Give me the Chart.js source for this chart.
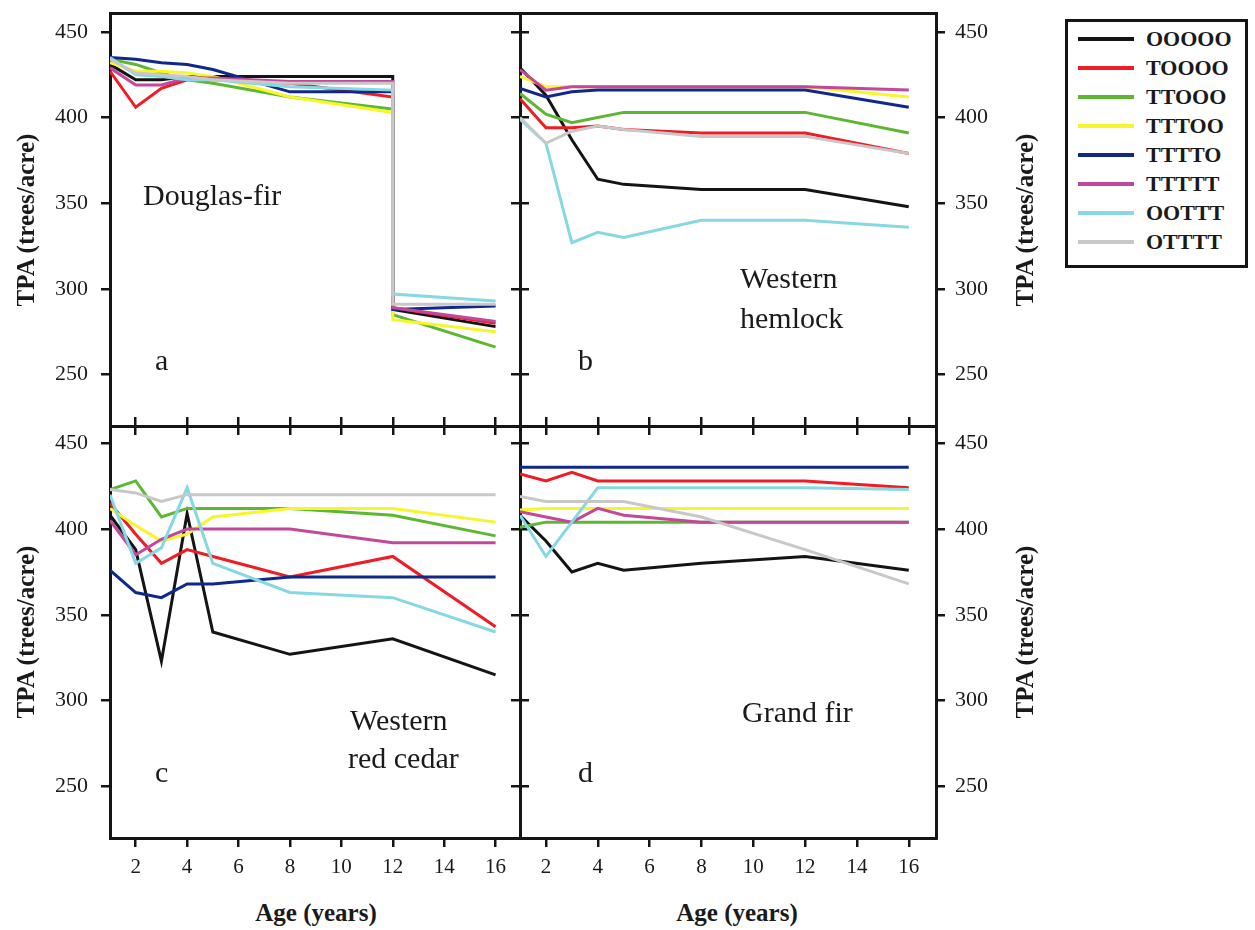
<!DOCTYPE html>
<html><head><meta charset="utf-8">
<script src="https://cdn.jsdelivr.net/npm/chart.js@4.4.1/dist/chart.umd.min.js"></script>
<style>
html,body{margin:0;padding:0;background:#fff;width:1255px;height:930px;overflow:hidden;}
body{position:relative;font-family:'Liberation Serif','Times New Roman',serif;color:#1a1a1a;}
canvas{position:absolute;}
.t{position:absolute;white-space:nowrap;line-height:1;}
.rot{position:absolute;white-space:nowrap;line-height:1;transform:translate(-50%,-50%) rotate(-90deg);font-weight:bold;font-size:25px;}
#legend{position:absolute;left:1065px;top:19px;width:183px;height:249px;border:3px solid #151515;box-sizing:border-box;}
</style></head><body>
<canvas id="pa" width="532" height="429" style="left:0px;top:9px;width:532px;height:429px"></canvas>
<canvas id="pb" width="538" height="429" style="left:508px;top:9px;width:538px;height:429px"></canvas>
<canvas id="pc" width="532" height="484" style="left:0px;top:414px;width:532px;height:484px"></canvas>
<canvas id="pd" width="538" height="484" style="left:508px;top:414px;width:538px;height:484px"></canvas>
<div id="legend"></div>
<div id="texts"></div>
<script>
// ---- categories / ticks ----
const ages = [1, 2, 3, 4, 5, 8, 12, 16];
const agesDouglasFir = [1, 2, 3, 4, 5, 8, 12, 12, 16];
const xTicks = [2, 4, 6, 8, 10, 12, 14, 16];
const yTicks = [250, 300, 350, 400, 450];
const seriesNames = ['OOOOO', 'TOOOO', 'TTOOO', 'TTTOO', 'TTTTO', 'TTTTT', 'OOTTT', 'OTTTT'];
const seriesColors = ['#141414', '#ee1d25', '#5db732', '#f6f62a', '#10288a', '#c2489c', '#86d8e2', '#c8c8c8'];

// ---- series values (trees/acre), one row per series in seriesNames order ----
const douglasFir = [
  [431, 422, 422, 424, 424, 424, 424, 288, 278],
  [427, 406, 417, 422, 422, 420, 412, 289, 280],
  [434, 431, 426, 422, 420, 412, 405, 285, 266],
  [432, 427, 427, 426, 424, 412, 403, 282, 275],
  [435, 434, 432, 431, 428, 415, 415, 288, 290],
  [429, 419, 419, 423, 423, 421, 421, 289, 281],
  [435, 425, 424, 422, 422, 418, 416, 297, 293],
  [434, 426, 425, 424, 422, 420, 420, 291, 291]
];
const westernHemlock = [
  [429, 413, 387, 364, 361, 358, 358, 348],
  [411, 394, 394, 395, 393, 391, 391, 379],
  [414, 402, 397, 400, 403, 403, 403, 391],
  [424, 418, 418, 418, 418, 418, 418, 412],
  [417, 412, 415, 416, 416, 416, 416, 406],
  [428, 416, 418, 418, 418, 418, 418, 416],
  [399, 385, 327, 333, 330, 340, 340, 336],
  [400, 385, 392, 395, 393, 389, 389, 379]
];
const westernRedCedar = [
  [408, 388, 323, 409, 340, 327, 336, 315],
  [415, 397, 380, 388, 384, 372, 384, 343],
  [423, 428, 407, 412, 412, 412, 408, 396],
  [412, 402, 393, 397, 407, 412, 412, 404],
  [376, 363, 360, 368, 368, 372, 372, 372],
  [405, 385, 394, 400, 400, 400, 392, 392],
  [420, 380, 389, 424, 380, 363, 360, 340],
  [423, 421, 416, 420, 420, 420, 420, 420]
];
const grandFir = [
  [408, 393, 375, 380, 376, 380, 384, 376],
  [432, 428, 433, 428, 428, 428, 428, 424],
  [401, 404, 404, 404, 404, 404, 404, 404],
  [411, 412, 412, 412, 412, 412, 412, 412],
  [436, 436, 436, 436, 436, 436, 436, 436],
  [410, 407, 404, 412, 408, 404, 404, 404],
  [408, 384, 404, 424, 424, 424, 424, 423],
  [419, 416, 416, 416, 416, 407, 388, 368]
];

const FONT = "'Liberation Serif','Times New Roman',serif";
const INK = '#151515';

function makeAxis(position, min, max, tickValues, o) {
  const vertical = position === 'left' || position === 'right';
  return {
    type: 'linear', position, min, max,
    afterBuildTicks: s => { s.ticks = tickValues.map(v => ({ value: v })); },
    afterFit: s => {
      if (vertical) s.width = o.size; else s.height = o.size;
      s.paddingTop = 0; s.paddingBottom = 0; s.paddingLeft = 0; s.paddingRight = 0;
    },
    grid: { display: true, drawOnChartArea: false, drawTicks: o.ticks, tickLength: 9, tickWidth: 2.5, tickColor: INK, color: INK, lineWidth: 2.5 },
    border: { display: true, width: 3, color: INK },
    ticks: { display: o.labels, padding: o.pad || 0, color: '#1a1a1a', autoSkip: false, maxRotation: 0, minRotation: 0,
      font: { family: FONT, size: vertical ? 22 : 21 }, callback: v => String(v) }
  };
}

function makePanel(id, xs, rows, cfg) {
  const datasets = rows.map((vals, i) => ({
    label: seriesNames[i],
    data: xs.map((a, k) => ({ x: a, y: vals[k] })),
    borderColor: seriesColors[i], backgroundColor: seriesColors[i],
    borderWidth: 3, pointRadius: 0, tension: 0, fill: false, order: -i
  }));
  new Chart(document.getElementById(id), {
    type: 'line',
    data: { datasets },
    options: {
      responsive: false, animation: false, devicePixelRatio: 1, events: [],
      layout: { padding: 0, autoPadding: false },
      plugins: { legend: { display: false }, tooltip: { enabled: false } },
      scales: {
        x: makeAxis('bottom', 1, cfg.xmax, xTicks, { ticks: true, labels: cfg.bottomLabels, size: cfg.bottom, pad: 8 }),
        xTop: makeAxis('top', 1, cfg.xmax, xTicks, { ticks: cfg.topTicks, labels: false, size: cfg.top }),
        y: makeAxis('left', 220, cfg.ymax, yTicks, { ticks: true, labels: cfg.leftLabels, size: cfg.left, pad: 13 }),
        yRight: makeAxis('right', 220, cfg.ymax, yTicks, { ticks: true, labels: cfg.rightLabels, size: cfg.right, pad: 10 })
      }
    }
  });
}

makePanel('pa', agesDouglasFir, douglasFir, { xmax: 16.95, ymax: 461, left: 110, right: 12, top: 4, bottom: 12, topTicks: false, leftLabels: true, rightLabels: false, bottomLabels: false });
makePanel('pb', ages, westernHemlock, { xmax: 17.05, ymax: 461, left: 12, right: 110, top: 4, bottom: 12, topTicks: false, leftLabels: false, rightLabels: true, bottomLabels: false });
makePanel('pc', ages, westernRedCedar, { xmax: 16.95, ymax: 460, left: 110, right: 12, top: 12, bottom: 60, topTicks: true, leftLabels: true, rightLabels: false, bottomLabels: true });
makePanel('pd', ages, grandFir, { xmax: 17.05, ymax: 460, left: 12, right: 110, top: 12, bottom: 60, topTicks: true, leftLabels: false, rightLabels: true, bottomLabels: true });

// ---- legend ----
const legend = document.getElementById('legend');
seriesNames.forEach((name, i) => {
  const cy = 38.5 + i * 29 - 22; // relative to box inner top (box top 19 + border 3)
  const line = document.createElement('div');
  line.style.cssText = `position:absolute;left:10px;top:${cy - 2}px;width:56px;height:4px;background:${seriesColors[i]};`;
  legend.appendChild(line);
  const fs = 22;
  const txt = document.createElement('div');
  txt.className = 't';
  txt.textContent = name;
  txt.style.cssText += `left:78px;top:${cy + 8 - 0.8375 * fs}px;font-size:${fs}px;font-weight:bold;`;
  legend.appendChild(txt);
});

// ---- texts ----
const texts = document.getElementById('texts');
function addText(str, left, baseline, fs, bold) {
  const d = document.createElement('div');
  d.className = 't';
  d.textContent = str;
  d.style.left = left + 'px';
  d.style.top = (baseline - 0.8375 * fs) + 'px';
  d.style.fontSize = fs + 'px';
  if (bold) d.style.fontWeight = 'bold';
  texts.appendChild(d);
  return d;
}
function addCentered(str, cx, baseline, fs) {
  const d = addText(str, cx, baseline, fs, true);
  d.style.transform = 'translateX(-50%)';
}
function addRot(str, cx, cy) {
  const d = document.createElement('div');
  d.className = 'rot';
  d.textContent = str;
  d.style.left = cx + 'px';
  d.style.top = cy + 'px';
  texts.appendChild(d);
}
addRot('TPA (trees/acre)', 24.5, 219.5);
addRot('TPA (trees/acre)', 24.5, 632);
addRot('TPA (trees/acre)', 1023.5, 219.5);
addRot('TPA (trees/acre)', 1023.5, 632);
addCentered('Age (years)', 316, 921, 25);
addCentered('Age (years)', 737, 921, 25);

addText('Douglas-fir', 143, 205, 30);
addText('a', 155, 370, 30);
addText('Western', 740, 288, 30);
addText('hemlock', 740, 328, 30);
addText('b', 578, 370, 30);
addText('Western', 350, 730, 30);
addText('red cedar', 348, 768, 30);
addText('c', 155, 782, 30);
addText('Grand fir', 742, 722, 30);
addText('d', 578, 782, 30);
</script>
</body></html>
